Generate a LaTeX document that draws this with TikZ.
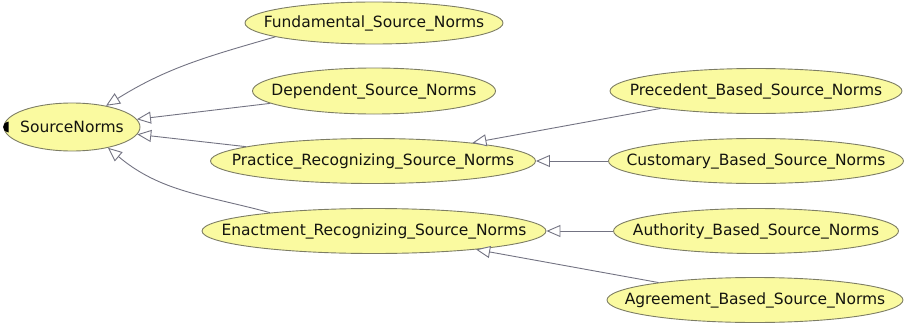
\documentclass[tikz,border=0pt]{standalone}
\usepackage{fontspec}
\setmainfont{DejaVu Sans}
\usetikzlibrary{shapes.geometric,arrows.meta}
\definecolor{nodefill}{RGB}{250,250,160}
\definecolor{nodeline}{RGB}{125,125,100}
\definecolor{edgeline}{RGB}{115,115,130}
\definecolor{txt}{RGB}{20,20,15}
\newcommand{\lbl}[1]{\makebox[0pt][c]{#1}}
\tikzset{
  cls/.style={ellipse, draw=nodeline, fill=nodefill, line width=0.9pt, inner sep=0pt,
    text=txt, font=\fontsize{15.5}{17}\selectfont},
  isa/.style={draw=edgeline, line width=0.9pt,
    -{Triangle[open, length=14pt, width=12pt, fill=white]}},
}
\begin{document}
\begin{tikzpicture}[x=1pt,y=1pt]
\useasboundingbox (0,0) rectangle (905,325);
\node[cls, minimum width=136, minimum height=48] (src) at (72,198) {\lbl{SourceNorms}};
\node[cls, minimum width=258, minimum height=42] (fund) at (374,302) {\lbl{Fundamental\_Source\_Norms}};
\node[cls, minimum width=243, minimum height=46] (dep) at (374,234) {\lbl{Dependent\_Source\_Norms}};
\node[cls, minimum width=325, minimum height=45] (prac) at (373,164) {\lbl{Practice\_Recognizing\_Source\_Norms}};
\node[cls, minimum width=344, minimum height=45] (enact) at (374,94) {\lbl{Enactment\_Recognizing\_Source\_Norms}};
\node[cls, minimum width=292, minimum height=45] (prec) at (756,234) {\lbl{Precedent\_Based\_Source\_Norms}};
\node[cls, minimum width=295, minimum height=45] (cust) at (756,164) {\lbl{Customary\_Based\_Source\_Norms}};
\node[cls, minimum width=285, minimum height=45] (auth) at (756,94) {\lbl{Authority\_Based\_Source\_Norms}};
\node[cls, minimum width=296, minimum height=45] (agree) at (755,25) {\lbl{Agreement\_Based\_Source\_Norms}};
% marker
\fill[black] ([xshift=5pt]src.west) ++(0,5.5) arc[start angle=90, end angle=270, radius=5.5] -- cycle;
% edges
\draw[isa] (fund.188) to[out=196, in=32] (src.32);
\draw[isa] (dep) -- (src);
\draw[isa] (prac) -- (src);
\draw[isa] (enact.170) to[out=165, in=-40] (src.-30);
\draw[isa] (prec) -- (prac);
\draw[isa] (cust) -- (prac);
\draw[isa] (auth) -- (enact);
\draw[isa] (agree) -- (enact);
\end{tikzpicture}
\end{document}
